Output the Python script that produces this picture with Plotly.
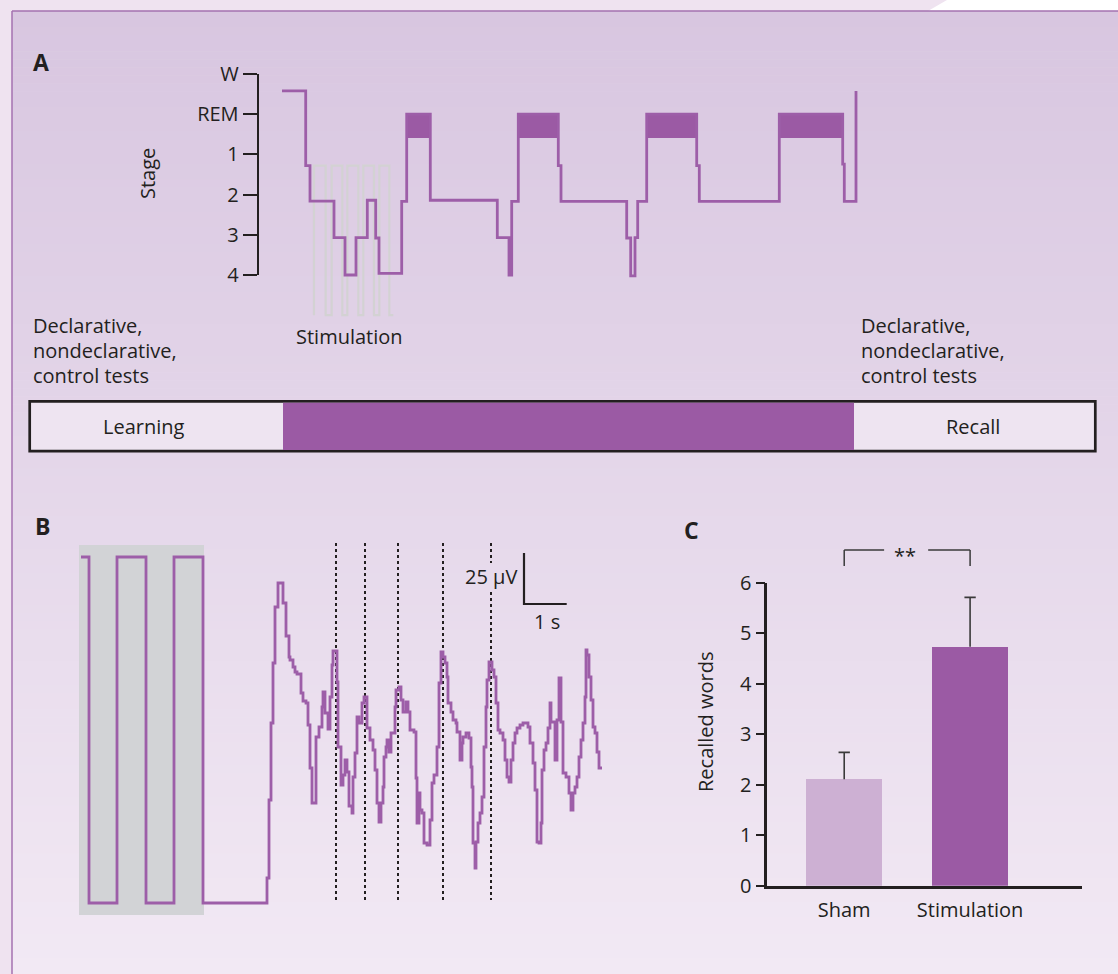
import plotly.graph_objects as go

W, H = 1118, 974


def fx(p):
    return p / W


def fy(p):
    return 1 - p / H


DARK = "#231f20"
PURPLE = "#9b5aa4"
LINE_PURPLE = "#9d5ea8"
LIGHT_BAR = "#cdb0d3"
FONT = "Open Sans"

# ---------------- Panel A: hypnogram ----------------
stage_labels = ["4", "3", "2", "1", "REM", "W"]
stage_codes = [0, 1, 2, 3, 4, 5]
hyp_t = [0, 23.7, 28, 52, 63, 74, 85.3, 93.7, 97, 119.7, 124.7, 148.3, 215.3, 227,
         229.7, 236.3, 276.3, 279, 344.7, 348.7, 353, 355.7, 364.7, 414.7, 417.3,
         497.3, 560.7, 562.3, 574]
hyp_stage = [4.58, 2.72, 1.84, 0.93, 0.0, 0.93, 1.86, 0.92, 0.04, 1.83, 4.0, 1.86,
             0.93, 0.0, 1.83, 4.0, 2.72, 1.83, 0.92, -0.02, 0.93, 1.83, 4.0, 2.72,
             1.83, 4.0, 2.76, 1.83, 4.58]
rem_start = [124.7, 236.3, 364.7, 497.3]
rem_end = [148.3, 276.3, 414.7, 560.7]
rem_floor = 3.4
rem_top = 4.0
stim_on = [32, 49.7, 65.3, 81.3, 97.3]
stim_off = [43.7, 60.3, 76.3, 92, 107.3]
stim_end = 111.3
stim_top, stim_bottom = 2.72, -1.0
sleep_on, sleep_off = 1, 572

# ---------------- Panel B: EEG trace ----------------
pulse_t = [2, 10, 38, 67, 95, 124]
pulse_v = [346, 0, 346, 0, 346, 0]
eeg_t = [188, 190, 192, 194, 196, 199, 204, 207, 210, 211, 214, 216, 218, 222, 224, 227,
         229, 231, 233, 237, 240, 243, 244, 246, 249, 251, 253, 254, 258, 259, 262, 264,
         266, 268, 270, 273, 274, 276, 278, 280, 283, 285, 288, 291, 294, 296, 298, 300,
         302, 304, 305, 307, 308, 310, 312, 316, 317, 320, 322, 324, 327, 329, 331, 335,
         337, 338, 340, 341, 343, 345, 348, 351, 353, 355, 358, 360, 362, 364, 366, 368,
         369, 372, 374, 377, 378, 381, 383, 384, 387, 390, 392, 393, 394, 396, 397, 399,
         401, 403, 405, 407, 408, 410, 413, 415, 417, 419, 421, 424, 426, 428, 430, 432,
         434, 436, 438, 441, 444, 449, 451, 454, 456, 458, 460, 462, 463, 465, 467, 469,
         471, 472, 476, 478, 480, 482, 484, 487, 490, 492, 494, 496, 498, 500, 502, 504,
         506, 507, 508, 510, 512, 514, 516, 518, 520, 523]
eeg_v = [25, 103, 180, 240, 296, 320, 300, 267, 246, 243, 236, 231, 229, 210, 202, 200,
         178, 135, 100, 166, 176, 196, 211, 190, 174, 206, 238, 252, 221, 156, 118, 128,
         143, 131, 97, 90, 126, 150, 186, 180, 200, 206, 175, 163, 153, 133, 100, 81,
         100, 116, 146, 156, 163, 151, 170, 196, 213, 216, 203, 191, 201, 191, 173, 171,
         125, 80, 110, 93, 90, 60, 58, 83, 120, 128, 156, 220, 251, 246, 240, 226,
         200, 191, 183, 180, 171, 143, 160, 166, 170, 165, 136, 116, 60, 35, 61, 80,
         90, 106, 156, 196, 223, 241, 233, 226, 200, 173, 170, 163, 143, 126, 121, 143,
         160, 170, 175, 178, 180, 176, 160, 140, 113, 61, 60, 80, 133, 153, 160, 175,
         200, 181, 143, 183, 225, 181, 130, 126, 110, 93, 110, 116, 126, 146, 163, 180,
         206, 253, 248, 226, 203, 176, 170, 151, 135, 135]
stim_box_t = [0, 125]
stim_box_v = [-12, 358]
marker_t = [257, 286, 319, 364, 412]
marker_v = [3, 360]
label_gap_v = [311, 340]
scale_origin = (445, 299)
units_per_s = 42.7
units_per_25uV = 51

# ---------------- Panel C: recalled words ----------------
groups = ["Sham", "Stimulation"]
recalled_mean = [2.11, 4.73]
recalled_sem = [0.53, 0.98]
bar_colors = [LIGHT_BAR, PURPLE]

fig = go.Figure()

# --- Panel A traces ---
gx, gy = [], []
for on, off in zip(stim_on, stim_off):
    gx += [on, on, off, off]
    gy += [stim_bottom, stim_top, stim_top, stim_bottom]
gx.append(stim_end)
gy.append(stim_bottom)
fig.add_trace(go.Scatter(x=gx, y=gy, mode="lines", xaxis="x", yaxis="y",
                         line=dict(color="rgba(210,210,210,0.95)", width=2.2),
                         hoverinfo="skip", showlegend=False))
fig.add_trace(go.Bar(x=rem_start, y=[rem_top - rem_floor] * len(rem_start),
                     base=[rem_floor] * len(rem_start),
                     width=[e - s for s, e in zip(rem_start, rem_end)],
                     offset=0, marker=dict(color=PURPLE, line=dict(width=0)),
                     xaxis="x", yaxis="y", showlegend=False, hoverinfo="skip"))
fig.add_trace(go.Scatter(x=hyp_t, y=hyp_stage, mode="lines", line_shape="hv",
                         line=dict(color=LINE_PURPLE, width=2.8),
                         xaxis="x", yaxis="y", showlegend=False))
# dummy trace to show the stage axis
fig.add_trace(go.Scatter(x=[None], y=[None], xaxis="x", yaxis="y4",
                         showlegend=False, hoverinfo="skip"))

# --- Panel B traces ---
mx, my = [], []
for i, t in enumerate(marker_t):
    if i == len(marker_t) - 1:
        mx += [t, t, None, t, t, None]
        my += [marker_v[1], label_gap_v[1], None, label_gap_v[0], marker_v[0], None]
    else:
        mx += [t, t, None]
        my += [marker_v[0], marker_v[1], None]
fig.add_trace(go.Scatter(x=mx, y=my, mode="lines", xaxis="x2", yaxis="y2",
                         line=dict(color=DARK, width=2, dash="dot"),
                         showlegend=False, hoverinfo="skip"))
fig.add_trace(go.Scatter(x=pulse_t + eeg_t, y=pulse_v + eeg_v, mode="lines",
                         line_shape="hv", line=dict(color=LINE_PURPLE, width=2.8),
                         xaxis="x2", yaxis="y2", showlegend=False))
sx0, sv0 = scale_origin
fig.add_trace(go.Scatter(x=[sx0, sx0, sx0 + units_per_s],
                         y=[sv0 + units_per_25uV, sv0, sv0], mode="lines",
                         line=dict(color=DARK, width=2.2), xaxis="x2", yaxis="y2",
                         showlegend=False, hoverinfo="skip"))

# --- Panel C traces ---
fig.add_trace(go.Bar(x=[0, 1], y=recalled_mean, width=0.603,
                     marker=dict(color=bar_colors, line=dict(width=0)),
                     xaxis="x3", yaxis="y3", showlegend=False))
ex, ey = [], []
cap = 0.045
for i, (m, s) in enumerate(zip(recalled_mean, recalled_sem)):
    ex += [i, i, None, i - cap, i + cap, None]
    ey += [m, m + s, None, m + s, m + s, None]
fig.add_trace(go.Scatter(x=ex, y=ey, mode="lines", line=dict(color="#3a3a3a", width=1.6),
                         xaxis="x3", yaxis="y3", showlegend=False, hoverinfo="skip"))

# --- background shapes ---
shapes = []
top_c = (216, 198, 224)
bot_c = (242, 233, 244)
n = 120
y_start, y_end = 11, 974
for k in range(n):
    a = y_start + (y_end - y_start) * k / n
    b = y_start + (y_end - y_start) * (k + 1) / n + 0.6
    f = (k + 0.5) / n
    c = tuple(round(top_c[j] + (bot_c[j] - top_c[j]) * f) for j in range(3))
    shapes.append(dict(type="rect", xref="paper", yref="paper", x0=fx(12), x1=1,
                       y0=fy(min(b, 974)), y1=fy(a), fillcolor="rgb(%d,%d,%d)" % c,
                       line=dict(width=0), layer="below"))
shapes.append(dict(type="path", xref="paper", yref="paper", layer="below",
                   path="M %f,%f L %f,%f L 1,1 L 1,%f Z" % (fx(928), fy(11), fx(947), 1, fy(11)),
                   fillcolor="white", line=dict(width=0)))
shapes.append(dict(type="line", xref="paper", yref="paper", x0=fx(12), x1=1, y0=fy(11), y1=fy(11),
                   line=dict(color="#a472b0", width=1.5), layer="below"))
shapes.append(dict(type="line", xref="paper", yref="paper", x0=fx(12), x1=fx(12), y0=fy(11), y1=0,
                   line=dict(color="#a472b0", width=1.5), layer="below"))
# timeline box
shapes.append(dict(type="rect", xref="paper", yref="paper", x0=fx(29.7), x1=fx(1095.3),
                   y0=fy(451.2), y1=fy(401.3), fillcolor="#eee4f1",
                   line=dict(color=DARK, width=2.7), layer="below"))
shapes.append(dict(type="rect", xref="x", yref="paper", x0=sleep_on, x1=sleep_off,
                   y0=fy(450.0), y1=fy(402.7), fillcolor=PURPLE, line=dict(width=0),
                   layer="above"))
# panel B stimulation box
shapes.append(dict(type="rect", xref="x2", yref="y2", x0=stim_box_t[0], x1=stim_box_t[1],
                   y0=stim_box_v[0], y1=stim_box_v[1], fillcolor="#d2d3d6",
                   line=dict(width=0), layer="below"))
# significance bracket (panel C)
br_top, br_bot = fy(550), fy(566)
bl = dict(color="#3a3a3a", width=1.5)
shapes += [
    dict(type="line", xref="x3", yref="paper", x0=0, x1=0, y0=br_bot, y1=br_top, line=bl),
    dict(type="line", xref="x3", yref="paper", x0=1, x1=1, y0=br_bot, y1=br_top, line=bl),
    dict(type="line", xref="x3", yref="paper", x0=0, x1=0.317, y0=br_top, y1=br_top, line=bl),
    dict(type="line", xref="x3", yref="paper", x0=0.667, x1=1, y0=br_top, y1=br_top, line=bl),
]

# --- annotations ---
ann = []


def text(s, x, y, size=20, xanchor="left", bold=False, angle=0):
    ann.append(dict(text=("<b>%s</b>" % s) if bold else s, x=fx(x), y=fy(y),
                    xref="paper", yref="paper", showarrow=False, xanchor=xanchor,
                    yanchor="middle", textangle=angle,
                    font=dict(family=FONT, size=size, color=DARK)))


text("A", 31, 62, size=23, bold=True)
text("B", 33, 526, size=23, bold=True)
text("C", 682, 530, size=23, bold=True)
text("Stage", 147, 174, angle=-90, xanchor="center")
for i, line in enumerate(["Declarative,", "nondeclarative,", "control tests"]):
    text(line, 31, 325 + 25.5 * i)
    text(line, 859, 325 + 25.5 * i)
text("Stimulation", 294, 336)
text("Learning", 143.5, 426, xanchor="center")
text("Recall", 973, 426, xanchor="center")
text("25 μV", 519, 576, xanchor="right")
text("1 s", 546.5, 621, xanchor="center")
text("Recalled words", 705, 722, angle=-90, xanchor="center")
ann.append(dict(text="**", x=0.484, y=fy(555), xref="x3", yref="paper", showarrow=False,
                xanchor="center", yanchor="middle",
                font=dict(family=FONT, size=20, color=DARK)))

axis_off = dict(visible=False, showgrid=False, zeroline=False, fixedrange=True,
                automargin=False)
tick_font = dict(family=FONT, size=20, color=DARK)
fig.update_layout(
    width=W, height=H, margin=dict(l=0, r=0, t=0, b=0, pad=0, autoexpand=False),
    paper_bgcolor="#efe3f0", plot_bgcolor="rgba(0,0,0,0)",
    font=dict(family=FONT, color=DARK, size=20),
    showlegend=False, bargap=0,
    shapes=shapes, annotations=ann,
    xaxis=dict(domain=[fx(240), fx(900)], range=[-42, 618], anchor="y", **axis_off),
    yaxis=dict(domain=[fy(330), fy(50)], range=[-1.368, 5.597], anchor="x", **axis_off),
    yaxis4=dict(domain=[fy(275), fy(74)], range=[0, 5], anchor="free", position=fx(257.7),
                showline=True, linecolor=DARK, linewidth=2.2, ticks="outside", ticklen=14,
                tickwidth=1.6, tickcolor=DARK, tickvals=stage_codes, ticktext=stage_labels,
                tickfont=tick_font, showgrid=False, zeroline=False, automargin=False),
    xaxis2=dict(domain=[fx(55), fx(625)], range=[-24, 546], anchor="y2", **axis_off),
    yaxis2=dict(domain=[fy(935), fy(530)], range=[-32, 373], anchor="x2", **axis_off),
    xaxis3=dict(domain=[fx(767.3), fx(1082)], range=[-0.611, 1.889], anchor="y3",
                showline=True, linecolor=DARK, linewidth=2.6, ticks="",
                tickvals=[0, 1], ticktext=groups, showgrid=False, zeroline=False,
                ticklabelstandoff=4, automargin=False, tickfont=tick_font),
    yaxis3=dict(domain=[fy(885.7), fy(582.7)], range=[0, 6], anchor="x3",
                showline=True, linecolor=DARK, linewidth=2.6, ticks="outside", ticklen=9,
                tickwidth=1.6, tickcolor=DARK, dtick=1, showgrid=False, zeroline=False,
                automargin=False, tickfont=tick_font),
)

fig.write_html("out.html", config={"displayModeBar": False},
               post_script="document.body.style.margin='0px';")
